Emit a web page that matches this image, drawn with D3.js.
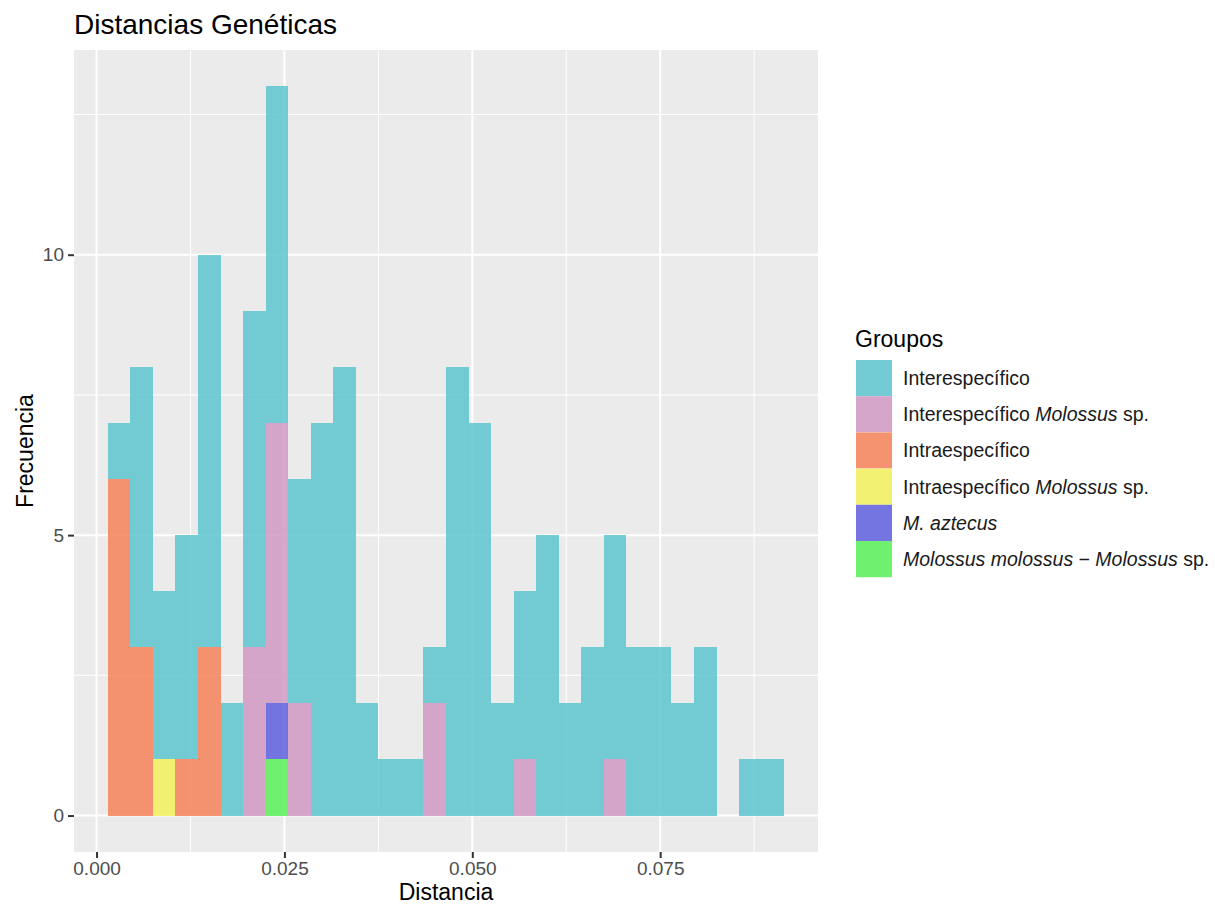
<!DOCTYPE html>
<html lang="es">
<head>
    <meta charset="utf-8" />
    <script src="https://d3js.org/d3.v7.min.js"></script>
    <style>
        body { margin: 0; background: #fff; }
        text { font-family: "Liberation Sans", Arial, sans-serif; }
    </style>
</head>
<body>
<script>
    // centros de los 30 intervalos (ancho 0.003)
    var binCenters = [0.003, 0.006, 0.009, 0.012, 0.015, 0.018, 0.021, 0.024, 0.027, 0.030,
                      0.033, 0.036, 0.039, 0.042, 0.045, 0.048, 0.051, 0.054, 0.057, 0.060,
                      0.063, 0.066, 0.069, 0.072, 0.075, 0.078, 0.081, 0.084, 0.087, 0.090];
    var binWidth = 0.003;

    var groups = ["Interespecífico", "Interespecífico Molossus sp.", "Intraespecífico",
                  "Intraespecífico Molossus sp.", "M. aztecus", "Molossus molossus - Molossus sp."];
    var colors = ["#5DC5CF", "#D099C2", "#F6825A", "#F3F15A", "#5F5FDE", "#58F158"];

    // frecuencias por grupo, una por intervalo
    var interesp      = [1,5,3,4,7,2,6,6,4,7,8,2,1,1,1,8,7,2,3,5,2,3,4,3,3,2,3,0,1,1];
    var interespMol   = [0,0,0,0,0,0,3,5,2,0,0,0,0,0,2,0,0,0,1,0,0,0,1,0,0,0,0,0,0,0];
    var intraesp      = [6,3,0,1,3,0,0,0,0,0,0,0,0,0,0,0,0,0,0,0,0,0,0,0,0,0,0,0,0,0];
    var intraespMol   = [0,0,1,0,0,0,0,0,0,0,0,0,0,0,0,0,0,0,0,0,0,0,0,0,0,0,0,0,0,0];
    var aztecus       = [0,0,0,0,0,0,0,1,0,0,0,0,0,0,0,0,0,0,0,0,0,0,0,0,0,0,0,0,0,0];
    var molMol        = [0,0,0,0,0,0,0,1,0,0,0,0,0,0,0,0,0,0,0,0,0,0,0,0,0,0,0,0,0,0];
    var series = [interesp, interespMol, intraesp, intraespMol, aztecus, molMol];

    var xTicks = [0, 0.025, 0.050, 0.075];
    var xMinor = [0.0125, 0.0375, 0.0625, 0.0875];
    var yTicks = [0, 5, 10];
    var yMinor = [2.5, 7.5, 12.5];

    var width = 1215, height = 906;
    var panel = { left: 74, right: 818, top: 50, bottom: 852 };

    var svg = d3.select("body").append("svg")
        .attr("width", width)
        .attr("height", height);

    var x = d3.scaleLinear().domain([-0.003, 0.096]).range([panel.left, panel.right]);
    var y = d3.scaleLinear().domain([-0.65, 13.65]).range([panel.bottom, panel.top]);

    // fondo del panel
    svg.append("rect")
        .attr("x", panel.left).attr("y", panel.top)
        .attr("width", panel.right - panel.left)
        .attr("height", panel.bottom - panel.top)
        .attr("fill", "#EBEBEB");

    // rejilla
    var grid = svg.append("g");
    grid.selectAll(".vmin").data(xMinor).join("line")
        .attr("x1", d => x(d)).attr("x2", d => x(d))
        .attr("y1", panel.top).attr("y2", panel.bottom)
        .attr("stroke", "#fff").attr("stroke-width", 1);
    grid.selectAll(".hmin").data(yMinor).join("line")
        .attr("y1", d => y(d)).attr("y2", d => y(d))
        .attr("x1", panel.left).attr("x2", panel.right)
        .attr("stroke", "#fff").attr("stroke-width", 1);
    grid.selectAll(".vmaj").data(xTicks).join("line")
        .attr("x1", d => x(d)).attr("x2", d => x(d))
        .attr("y1", panel.top).attr("y2", panel.bottom)
        .attr("stroke", "#fff").attr("stroke-width", 2);
    grid.selectAll(".hmaj").data(yTicks).join("line")
        .attr("y1", d => y(d)).attr("y2", d => y(d))
        .attr("x1", panel.left).attr("x2", panel.right)
        .attr("stroke", "#fff").attr("stroke-width", 2);

    // tabla para apilar
    var rows = binCenters.map(function (c, i) {
        var r = { center: c };
        groups.forEach(function (g, k) { r[g] = series[k][i]; });
        return r;
    });

    // el último grupo queda abajo, como en ggplot
    var stack = d3.stack().keys(groups.slice().reverse());
    var layers = stack(rows);

    var bars = svg.append("g").attr("shape-rendering", "crispEdges");
    layers.forEach(function (layer) {
        var col = colors[groups.indexOf(layer.key)];
        bars.append("g").selectAll("rect")
            .data(layer.filter(d => d[1] > d[0]))
            .join("rect")
            .attr("x", d => x(d.data.center - binWidth / 2))
            .attr("width", d => x(d.data.center + binWidth / 2) - x(d.data.center - binWidth / 2))
            .attr("y", d => y(d[1]))
            .attr("height", d => y(d[0]) - y(d[1]))
            .attr("fill", col)
            .attr("fill-opacity", 0.85);
    });

    // ejes
    var xAxis = svg.append("g")
        .attr("transform", "translate(0," + panel.bottom + ")")
        .call(d3.axisBottom(x).tickValues(xTicks).tickFormat(d3.format(".3f")).tickSize(6).tickPadding(4));
    var yAxis = svg.append("g")
        .attr("transform", "translate(" + panel.left + ",0)")
        .call(d3.axisLeft(y).tickValues(yTicks).tickFormat(d3.format("d")).tickSize(6).tickPadding(4));

    [xAxis, yAxis].forEach(function (a) {
        a.select(".domain").remove();
        a.selectAll(".tick line").attr("stroke", "#333").attr("stroke-width", 2);
        a.selectAll(".tick text")
            .attr("fill", "#4D4D4D")
            .style("font-size", "19px")
            .style("font-family", "'Liberation Sans', Arial, sans-serif");
    });

    // títulos
    svg.append("text")
        .attr("x", 74).attr("y", 34)
        .attr("fill", "#000")
        .style("font-size", "28px")
        .text("Distancias Genéticas");

    svg.append("text")
        .attr("x", (panel.left + panel.right) / 2).attr("y", 900)
        .attr("text-anchor", "middle")
        .attr("fill", "#000")
        .style("font-size", "23px")
        .text("Distancia");

    svg.append("text")
        .attr("transform", "translate(33," + (panel.top + panel.bottom) / 2 + ") rotate(-90)")
        .attr("text-anchor", "middle")
        .attr("fill", "#000")
        .style("font-size", "23px")
        .text("Frecuencia");

    // leyenda
    var legendLabels = [
        [["Interespecífico", false]],
        [["Interespecífico ", false], ["Molossus", true], [" sp.", false]],
        [["Intraespecífico", false]],
        [["Intraespecífico ", false], ["Molossus", true], [" sp.", false]],
        [["M. aztecus", true]],
        [["Molossus molossus \u2212 Molossus", true], [" sp.", false]]
    ];

    var legend = svg.append("g").attr("transform", "translate(855,0)");
    legend.append("text")
        .attr("x", 0).attr("y", 347)
        .attr("fill", "#000")
        .style("font-size", "23px")
        .text("Groupos");

    var keyH = 36.2, keyW = 36, keyTop = 360;
    var items = legend.selectAll(".item").data(groups).join("g")
        .attr("transform", (d, i) => "translate(0," + (keyTop + i * keyH) + ")");
    items.append("rect")
        .attr("x", 1).attr("y", 0)
        .attr("width", keyW).attr("height", keyH)
        .attr("fill", "#F2F2F2");
    items.append("rect")
        .attr("x", 1).attr("y", 0)
        .attr("width", keyW).attr("height", keyH)
        .attr("fill", (d, i) => colors[i])
        .attr("fill-opacity", 0.85);
    items.append("text")
        .attr("x", 48).attr("y", keyH / 2 + 7)
        .attr("fill", "#1A1A1A")
        .style("font-size", "19.5px")
        .each(function (d, i) {
            var t = d3.select(this);
            legendLabels[i].forEach(function (p) {
                t.append("tspan").text(p[0]).style("font-style", p[1] ? "italic" : "normal");
            });
        });
</script>
</body>
</html>
